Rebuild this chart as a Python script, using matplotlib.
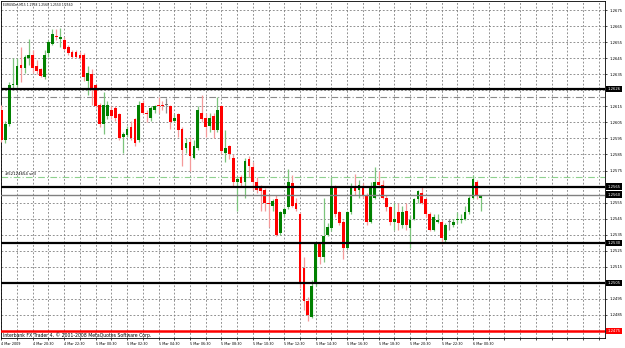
import numpy as np
import matplotlib
matplotlib.use('Agg')
import matplotlib.pyplot as plt
import matplotlib.transforms as mtransforms

# EURUSDm M15 bars, 4 Mar 18:30 onwards
opens = [1.2613, 1.2594, 1.2604, 1.2628, 1.2628, 1.2641, 1.2639, 1.2645, 1.2647, 1.2640,
         1.2638, 1.2633, 1.2648, 1.2654, 1.2659, 1.2657, 1.2656, 1.2652, 1.2649, 1.2649,
         1.2647, 1.2647, 1.2631, 1.2635, 1.2628, 1.2616, 1.2604, 1.2609, 1.2613, 1.2614,
         1.2610, 1.2596, 1.2597, 1.2602, 1.2607, 1.2594, 1.2617, 1.2611, 1.2608, 1.2613,
         1.2616, 1.2616, 1.2616, 1.2615, 1.2606, 1.2610, 1.2601, 1.2589, 1.2593, 1.2583,
         1.2589, 1.2611, 1.2608, 1.2603, 1.2609, 1.2600, 1.2615, 1.2586, 1.2590, 1.2583,
         1.2568, 1.2571, 1.2568, 1.2582, 1.2577, 1.2568, 1.2565, 1.2563, 1.2555, 1.2553,
         1.2557, 1.2536, 1.2548, 1.2552, 1.2567, 1.2555, 1.2548, 1.2514, 1.2494, 1.2484,
         1.2504, 1.2529, 1.2521, 1.2535, 1.2539, 1.2564, 1.2549, 1.2543, 1.2527, 1.2549,
         1.2565, 1.2563, 1.2565, 1.2560, 1.2543, 1.2558, 1.2568, 1.2566, 1.2558, 1.2552,
         1.2543, 1.2549, 1.2541, 1.2550, 1.2539, 1.2545, 1.2557, 1.2561, 1.2557, 1.2548,
         1.2538, 1.2543, 1.2543, 1.2532, 1.2543, 1.2541, 1.2544, 1.2544, 1.2545, 1.2549,
         1.2558, 1.2568, 1.2558]
highs = [1.2616, 1.2606, 1.2630, 1.2645, 1.2645, 1.2652, 1.2647, 1.2657, 1.2650, 1.2644,
         1.2639, 1.2650, 1.2656, 1.2663, 1.2663, 1.2664, 1.2658, 1.2653, 1.2650, 1.2650,
         1.2649, 1.2648, 1.2640, 1.2638, 1.2629, 1.2617, 1.2624, 1.2618, 1.2615, 1.2615,
         1.2611, 1.2599, 1.2603, 1.2606, 1.2608, 1.2618, 1.2619, 1.2613, 1.2615, 1.2616,
         1.2621, 1.2618, 1.2620, 1.2616, 1.2610, 1.2611, 1.2602, 1.2595, 1.2596, 1.2594,
         1.2615, 1.2622, 1.2611, 1.2611, 1.2611, 1.2621, 1.2616, 1.2600, 1.2591, 1.2585,
         1.2571, 1.2572, 1.2583, 1.2584, 1.2580, 1.2571, 1.2566, 1.2564, 1.2560, 1.2557,
         1.2560, 1.2550, 1.2552, 1.2576, 1.2572, 1.2558, 1.2549, 1.2521, 1.2496, 1.2507,
         1.2530, 1.2530, 1.2558, 1.2542, 1.2571, 1.2566, 1.2550, 1.2544, 1.2550, 1.2567,
         1.2573, 1.2569, 1.2567, 1.2561, 1.2568, 1.2577, 1.2575, 1.2569, 1.2560, 1.2553,
         1.2555, 1.2555, 1.2553, 1.2555, 1.2547, 1.2558, 1.2563, 1.2565, 1.2558, 1.2549,
         1.2548, 1.2548, 1.2544, 1.2542, 1.2545, 1.2545, 1.2549, 1.2548, 1.2553, 1.2559,
         1.2572, 1.2569, 1.2560]
lows = [1.2593, 1.2592, 1.2603, 1.2626, 1.2627, 1.2630, 1.2636, 1.2641, 1.2636, 1.2635,
        1.2633, 1.2632, 1.2646, 1.2653, 1.2656, 1.2652, 1.2650, 1.2647, 1.2645, 1.2645,
        1.2644, 1.2631, 1.2622, 1.2616, 1.2614, 1.2602, 1.2598, 1.2607, 1.2607, 1.2606,
        1.2594, 1.2586, 1.2596, 1.2594, 1.2590, 1.2593, 1.2610, 1.2605, 1.2606, 1.2611,
        1.2611, 1.2613, 1.2611, 1.2601, 1.2605, 1.2596, 1.2578, 1.2586, 1.2575, 1.2582,
        1.2588, 1.2605, 1.2596, 1.2599, 1.2595, 1.2599, 1.2585, 1.2580, 1.2582, 1.2565,
        1.2550, 1.2565, 1.2558, 1.2571, 1.2563, 1.2561, 1.2550, 1.2550, 1.2540, 1.2550,
        1.2534, 1.2535, 1.2546, 1.2551, 1.2552, 1.2550, 1.2502, 1.2488, 1.2481, 1.2483,
        1.2503, 1.2517, 1.2518, 1.2534, 1.2537, 1.2546, 1.2541, 1.2520, 1.2526, 1.2548,
        1.2560, 1.2558, 1.2558, 1.2541, 1.2542, 1.2557, 1.2565, 1.2557, 1.2550, 1.2541,
        1.2538, 1.2538, 1.2539, 1.2538, 1.2527, 1.2544, 1.2555, 1.2554, 1.2546, 1.2537,
        1.2537, 1.2542, 1.2529, 1.2530, 1.2538, 1.2540, 1.2542, 1.2542, 1.2544, 1.2548,
        1.2557, 1.2557, 1.2550]
closes = [1.2594, 1.2604, 1.2628, 1.2629, 1.2640, 1.2639, 1.2646, 1.2647, 1.2639, 1.2637,
          1.2634, 1.2647, 1.2655, 1.2660, 1.2658, 1.2658, 1.2651, 1.2648, 1.2646, 1.2646,
          1.2645, 1.2633, 1.2636, 1.2626, 1.2615, 1.2604, 1.2616, 1.2616, 1.2609, 1.2608,
          1.2595, 1.2598, 1.2601, 1.2595, 1.2592, 1.2616, 1.2611, 1.2610, 1.2614, 1.2615,
          1.2615, 1.2615, 1.2616, 1.2605, 1.2608, 1.2600, 1.2588, 1.2592, 1.2584, 1.2590,
          1.2613, 1.2607, 1.2602, 1.2608, 1.2600, 1.2613, 1.2587, 1.2589, 1.2585, 1.2568,
          1.2570, 1.2567, 1.2581, 1.2578, 1.2568, 1.2563, 1.2562, 1.2555, 1.2554, 1.2556,
          1.2535, 1.2549, 1.2551, 1.2568, 1.2553, 1.2551, 1.2505, 1.2494, 1.2485, 1.2503,
          1.2529, 1.2521, 1.2534, 1.2540, 1.2565, 1.2548, 1.2542, 1.2527, 1.2549, 1.2565,
          1.2562, 1.2566, 1.2559, 1.2543, 1.2564, 1.2568, 1.2566, 1.2558, 1.2552, 1.2543,
          1.2545, 1.2542, 1.2549, 1.2541, 1.2544, 1.2557, 1.2562, 1.2555, 1.2548, 1.2538,
          1.2546, 1.2544, 1.2533, 1.2541, 1.2543, 1.2543, 1.2545, 1.2545, 1.2549, 1.2558,
          1.2570, 1.2559, 1.2560]

time_labels = ['4 Mar 2009', '4 Mar 20:30', '4 Mar 22:30', '5 Mar 00:30', '5 Mar 02:30',
               '5 Mar 04:30', '5 Mar 06:30', '5 Mar 08:30', '5 Mar 10:30', '5 Mar 12:30',
               '5 Mar 14:30', '5 Mar 16:30', '5 Mar 18:30', '5 Mar 20:30', '5 Mar 22:30',
               '6 Mar 00:30']

# horizontal levels on the chart
black_levels = [1.2626, 1.2565, 1.2530, 1.2505]
red_level = 1.2475
bid = 1.2560
order_level = 1.2571
order_text = '#52124654 sell'
sl_level = 1.2621
price_ticks = [round(1.2475 + 0.001 * k, 4) for k in range(21)]

o = np.array(opens); h = np.array(highs); l = np.array(lows); c = np.array(closes)
x = np.arange(len(o))

bull = '#008000'
bear = '#ff0000'
cols = np.where(c > o, bull, np.where(c < o, bear, '#707070'))
wick_cols = np.where(c > o, '#7cc47c', np.where(c < o, '#f59a9a', '#909090'))

fig = plt.figure(figsize=(6.25, 3.48), dpi=100)
ax = fig.add_axes([1 / 625, 10 / 348, 604 / 625, 337 / 348])

ax.vlines(x, l, h, colors=wick_cols, lw=0.9, zorder=3)
ax.bar(x, np.maximum(np.abs(c - o), 0.00005), bottom=np.minimum(o, c), width=0.7,
       color=cols, linewidth=0, zorder=4)

ax.set_xlim(-0.08, 153.6)
ax.set_ylim(1.247064, 1.268061)

# grid: one line per hour, time label every two hours
ax.set_yticks(price_ticks)
xt = np.arange(0, 154, 4)
ax.set_xticks(xt)
xl = [time_labels[t // 8] if t % 8 == 0 and t // 8 < len(time_labels) else '' for t in xt]
ax.set_xticklabels(xl)
for lbl in ax.get_xticklabels():
    lbl.set_ha('left')
ax.grid(True, color='#808080', linestyle=(0, (2.2, 2.2)), lw=0.6, zorder=0)

ax.yaxis.tick_right()
hidden = {1.2625, 1.2565, 1.2505, 1.2475}
ax.set_yticklabels(['' if p in hidden else f'{p:.4f}' for p in price_ticks])
ax.tick_params(axis='y', labelsize=2.7, length=1.5, width=0.5, pad=1.5)
ax.tick_params(axis='x', labelsize=2.45, length=1.5, width=0.5, pad=1.5)
for s in ax.spines.values():
    s.set_color('black')
    s.set_linewidth(0.6)

for lev in black_levels:
    ax.axhline(lev, color='black', lw=1.6, zorder=5)
ax.axhline(red_level, color='#ff0000', lw=1.8, zorder=5)
ax.axhline(bid, color='#808080', lw=1.0, zorder=5)
ax.axhline(sl_level, color='#8a8a8a', lw=0.8, linestyle=(0, (6, 2, 1, 2)), zorder=2)
ax.axhline(order_level, color='#8fd18f', lw=0.8, linestyle=(0, (6, 2, 1, 2)), zorder=2)
ax.text(1, order_level + 0.00006, order_text, fontsize=2.8, va='bottom', ha='left')

trans = mtransforms.blended_transform_factory(ax.transAxes, ax.transData)
for lev, bg in [(b, 'black') for b in black_levels] + [(bid, 'black'), (red_level, '#ff0000')]:
    ax.text(1.004, lev, f'{lev:.4f}', transform=trans, fontsize=2.7, color='white',
            va='center', ha='left', clip_on=False,
            bbox=dict(facecolor=bg, edgecolor='none', pad=0.8))

fig.text(3 / 625, 1 - 5 / 348, 'EURUSDm,M15 1.2558 1.2560 1.2550 1.2560',
         fontsize=2.2, va='center', ha='left')
fig.text(3 / 625, 1 - 335.5 / 348,
         'Interbank FX Trader 4, \u00a9 2001-2008 MetaQuotes Software Corp.',
         fontsize=3.3, va='center', ha='left')

plt.savefig('out.png', dpi=100)
